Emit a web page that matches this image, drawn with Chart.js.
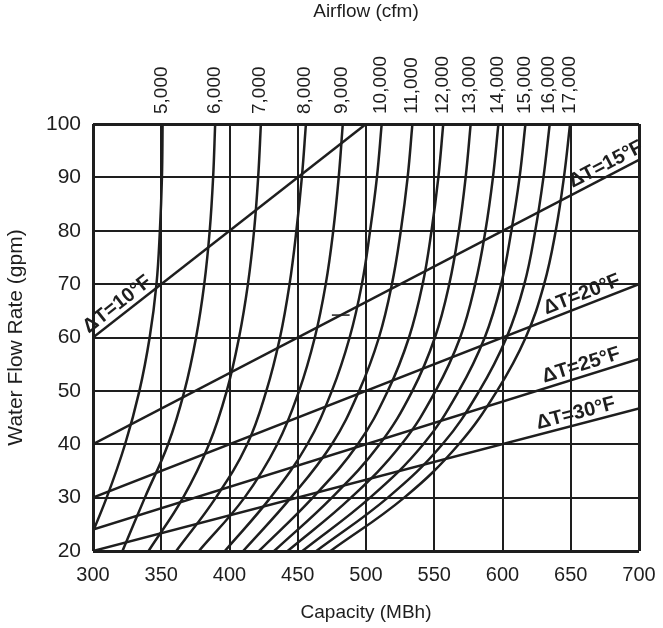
<!DOCTYPE html>
<html>
<head>
<meta charset="utf-8">
<script src="https://cdn.jsdelivr.net/npm/chart.js@4/dist/chart.umd.min.js"></script>
<style>
  html, body { margin: 0; padding: 0; background: #fff; }
  #wrap { width: 663px; height: 628px; }
</style>
</head>
<body>
<div id="wrap"><canvas id="chart" width="663" height="628"></canvas></div>
<script>
// water flow levels (gpm) where each airflow curve was read
const flowLevels = [100, 90, 80, 70, 60, 50, 40, 30, 20];

// capacity (MBh) of each airflow curve at the flow levels above
const cap5000 = [351, 350.5, 349, 346.5, 341.5, 334, 323.5, 310, 294];
const cap6000 = [389.5, 388, 385.5, 381.5, 375.5, 367, 355, 338, 321.6];
const cap7000 = [423, 421, 418, 413.5, 407, 398, 385, 366, 340.7];
const cap8000 = [456, 453, 449, 444, 437, 427, 413, 390, 361];
const cap9000 = [483, 480, 476, 470.5, 462.5, 451, 435, 411, 377.6];
const cap10000 = [511.5, 508, 503, 497, 488, 475, 457, 430, 396.6];
const cap11000 = [534, 530.5, 525.5, 519, 509.5, 495, 475, 445, 410];
const cap12000 = [556.6, 553, 548, 541.5, 531.5, 516, 494, 461, 421.6];
const cap13000 = [576.7, 573, 568, 561, 550.5, 534, 510, 475, 432.7];
const cap14000 = [597, 593, 587.5, 580, 569, 551, 526, 489, 442.6];
const cap15000 = [616.8, 612.5, 606.5, 599, 587, 568, 542, 503, 453.4];
const cap16000 = [634.6, 630, 624, 616, 603, 583, 556, 516, 463.6];
const cap17000 = [649.5, 645, 639, 630.5, 617, 596, 568, 528, 474];

const airflowLabels = ['5,000', '6,000', '7,000', '8,000', '9,000', '10,000', '11,000',
  '12,000', '13,000', '14,000', '15,000', '16,000', '17,000'];
const airflowCurves = [cap5000, cap6000, cap7000, cap8000, cap9000, cap10000, cap11000,
  cap12000, cap13000, cap14000, cap15000, cap16000, cap17000];

// delta T lines: start at 300 MBh, end points
const dtLabels = ['ΔT=10°F', 'ΔT=15°F', 'ΔT=20°F', 'ΔT=25°F', 'ΔT=30°F'];
const dtStartFlow = [60, 40, 30, 24, 20];
const dtEndCap = [500, 700, 700, 700, 700];
const dtEndFlow = [100, 93.3, 70, 56, 46.7];
const dtLabelCap = [322.7, 679.6, 661, 660, 655.7];

// stray short dash in the middle of the chart
const dashCap = [475, 488];
const dashFlow = [64.2, 64.2];

const FONT = '"Liberation Sans", Arial, Helvetica, sans-serif';
const INK = '#1e1e1e';

const datasets = [];
airflowCurves.forEach((caps, i) => {
  datasets.push({
    label: airflowLabels[i],
    data: caps.map((c, j) => ({ x: c, y: flowLevels[j] })),
    borderColor: INK,
    borderWidth: 2.5,
    pointRadius: 0,
    tension: 0.4,
    fill: false,
    clip: 0,
  });
});
dtLabels.forEach((lab, i) => {
  datasets.push({
    label: lab,
    data: [{ x: 300, y: dtStartFlow[i] }, { x: dtEndCap[i], y: dtEndFlow[i] }],
    borderColor: INK,
    borderWidth: 2.5,
    pointRadius: 0,
    fill: false,
  });
});
datasets.push({
  label: 'dash',
  data: dashCap.map((c, j) => ({ x: c, y: dashFlow[j] })),
  borderColor: INK,
  borderWidth: 1.5,
  pointRadius: 0,
});

const dtLabelPlugin = {
  id: 'dtLabels',
  afterDatasetsDraw(chart) {
    const { ctx, scales: { x, y } } = chart;
    ctx.save();
    ctx.font = 'bold 20px ' + FONT;
    ctx.fillStyle = INK;
    ctx.textAlign = 'center';
    ctx.textBaseline = 'bottom';
    dtLabels.forEach((lab, i) => {
      const x0 = x.getPixelForValue(300), y0 = y.getPixelForValue(dtStartFlow[i]);
      const x1 = x.getPixelForValue(dtEndCap[i]), y1 = y.getPixelForValue(dtEndFlow[i]);
      const t = (dtLabelCap[i] - 300) / (dtEndCap[i] - 300);
      const px = x0 + (x1 - x0) * t, py = y0 + (y1 - y0) * t;
      ctx.save();
      ctx.translate(px, py);
      ctx.rotate(Math.atan2(y1 - y0, x1 - x0));
      ctx.fillText(lab, 0, -1);
      ctx.restore();
    });
    ctx.restore();
  }
};

const frameWidth = (edgeA, edgeB) => (c) => {
  const v = c.tick && c.tick.value;
  return (v === edgeA || v === edgeB) ? 3 : 2;
};

new Chart(document.getElementById('chart'), {
  type: 'line',
  data: { datasets },
  options: {
    responsive: false,
    animation: false,
    layout: { padding: { right: 24 } },
    plugins: {
      legend: { display: false },
      tooltip: { enabled: false },
    },
    scales: {
      x: {
        type: 'linear',
        position: 'bottom',
        min: 300,
        max: 700,
        ticks: { stepSize: 50, color: INK, font: { family: FONT, size: 20 }, padding: 12 },
        grid: { color: INK, lineWidth: frameWidth(300, 700), drawTicks: false },
        border: { display: false },
        title: { display: true, text: 'Capacity (MBh)', color: INK, font: { family: FONT, size: 19 }, padding: { top: 6 } },
        afterFit: (s) => { s.height = 77; s.paddingLeft = 0; s.paddingRight = 0; },
      },
      x2: {
        type: 'linear',
        axis: 'x',
        position: 'top',
        min: 300,
        max: 700,
        afterBuildTicks: (s) => { s.ticks = airflowCurves.map(c => ({ value: c[0] })); },
        ticks: {
          autoSkip: false,
          minRotation: 90,
          maxRotation: 90,
          color: INK,
          padding: 10,
          labelOffset: 22,
          font: { family: FONT, size: 19 },
          callback: (v, i) => airflowLabels[i],
        },
        grid: { display: false, drawTicks: false },
        border: { display: false },
        title: { display: true, text: 'Airflow (cfm)', color: INK, font: { family: FONT, size: 19 }, padding: { top: 0, bottom: 4 } },
        afterFit: (s) => { s.height = 124; s.paddingLeft = 0; s.paddingRight = 0; },
      },
      y: {
        type: 'linear',
        min: 20,
        max: 100,
        ticks: { stepSize: 10, color: INK, font: { family: FONT, size: 21 }, padding: 12 },
        grid: { color: INK, lineWidth: frameWidth(20, 100), drawTicks: false },
        border: { display: false },
        title: { display: true, text: 'Water Flow Rate (gpm)', color: INK, font: { family: FONT, size: 21 }, padding: { bottom: 2 } },
        afterFit: (s) => { s.width = 93; },
      },
    },
  },
  plugins: [dtLabelPlugin],
});
</script>
</body>
</html>
